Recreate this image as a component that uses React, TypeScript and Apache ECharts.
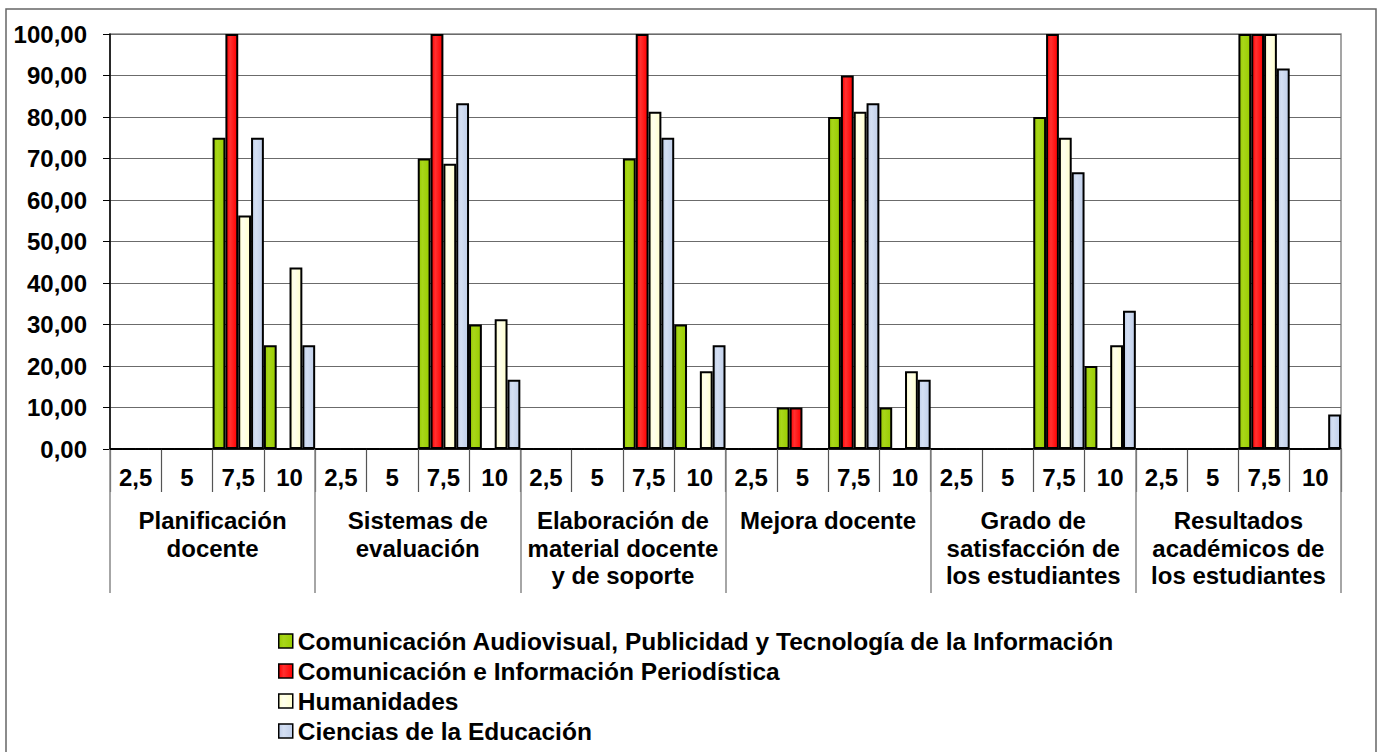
import React, { useEffect, useRef } from "react";
import * as echarts from "echarts";

const scoreTicks = ["2,5", "5", "7,5", "10"];
const groupNames = [
  "Planificación\ndocente",
  "Sistemas de\nevaluación",
  "Elaboración de\nmaterial docente\ny de soporte",
  "Mejora docente",
  "Grado de\nsatisfacción de\nlos estudiantes",
  "Resultados\nacadémicos de\nlos estudiantes",
];
const seriesNames = [
  "Comunicación Audiovisual, Publicidad y Tecnología de la Información",
  "Comunicación e Información Periodística",
  "Humanidades",
  "Ciencias de la Educación",
];
// values per category: 6 groups x [2,5 ; 5 ; 7,5 ; 10]
const audiovisual = [0, 0, 75, 25, 0, 0, 70, 30, 0, 0, 70, 30, 0, 10, 80, 10, 0, 0, 80, 20, 0, 0, 100, 0];
const periodistica = [0, 0, 100, 0, 0, 0, 100, 0, 0, 0, 100, 0, 0, 10, 90, 0, 0, 0, 100, 0, 0, 0, 100, 0];
const humanidades = [0, 0, 56.25, 43.75, 0, 0, 68.75, 31.25, 0, 0, 81.25, 18.75, 0, 0, 81.25, 18.75, 0, 0, 75, 25, 0, 0, 100, 0];
const educacion = [0, 0, 75, 25, 0, 0, 83.33, 16.67, 0, 0, 75, 25, 0, 0, 83.33, 16.67, 0, 0, 66.67, 33.33, 0, 0, 91.67, 8.33];
const seriesColors = ["#99CC00", "#FF0000", "#FFFFCC", "#C0CFEA"];
const yMin = 0;
const yMax = 100;
const yInterval = 10;

const FONT = "'Liberation Sans', Arial, sans-serif";
const FS = 24;

export default function App() {
  const ref = useRef<HTMLDivElement>(null);
  useEffect(() => {
    if (!ref.current) return;
    const chart = echarts.init(ref.current, null, { renderer: "svg" });
    const categories: string[] = [];
    groupNames.forEach(() => scoreTicks.forEach((t) => categories.push(t)));
    const allData = [audiovisual, periodistica, humanidades, educacion];
    const grad = (c: string, light: string) =>
      new echarts.graphic.LinearGradient(0, 0, 1, 0, [
        { offset: 0, color: c },
        { offset: 0.35, color: light },
        { offset: 1, color: c },
      ]);
    const lights = ["#A8D61A", "#FF3030", "#FFFFEE", "#D4DFF3"];
    chart.setOption({
      animation: false,
      backgroundColor: "#ffffff",
      textStyle: { fontFamily: FONT },
      graphic: [
        {
          type: "rect",
          shape: { x: 6, y: 9, width: 1370, height: 760 },
          style: { fill: "none", stroke: "#666", lineWidth: 1.5 },
          z: -1,
        },
      ],
      grid: {
        left: 110,
        right: 40,
        top: 34,
        bottom: 303,
        show: true,
        borderColor: "#888",
        borderWidth: 1.5,
        backgroundColor: "transparent",
      },
      legend: {
        orient: "vertical",
        left: 278,
        top: 628.5,
        padding: 0,
        itemGap: 5,
        itemWidth: 14,
        itemHeight: 14,
        icon: "rect",
        itemStyle: { borderColor: "#000", borderWidth: 1.5 },
        textStyle: {
          fontFamily: FONT,
          fontSize: 24.5,
          fontWeight: "bold",
          color: "#000",
          lineHeight: 24.5,
        },
        data: seriesNames,
      },
      xAxis: [
        {
          type: "category",
          data: categories,
          position: "bottom",
          axisLine: { show: true, lineStyle: { color: "#000", width: 1.5 } },
          axisTick: {
            show: true,
            interval: 0,
            length: 43,
            alignWithLabel: false,
            lineStyle: { color: "#555", width: 1.2 },
          },
          axisLabel: {
            interval: 0,
            margin: 16,
            fontFamily: FONT,
            fontSize: FS,
            fontWeight: "bold",
            color: "#000",
            lineHeight: FS,
          },
          splitLine: { show: false },
        },
        {
          type: "category",
          data: groupNames,
          position: "bottom",
          axisLine: { show: false },
          axisTick: {
            show: true,
            interval: 0,
            length: 144,
            alignWithLabel: false,
            lineStyle: { color: "#888", width: 1.5 },
          },
          axisLabel: {
            interval: 0,
            margin: 58,
            fontFamily: FONT,
            fontSize: FS,
            fontWeight: "bold",
            color: "#000",
            lineHeight: 27.5,
            align: "center",
          },
          splitLine: { show: false },
        },
      ],
      yAxis: {
        type: "value",
        min: yMin,
        max: yMax,
        interval: yInterval,
        axisLine: { show: true, lineStyle: { color: "#000", width: 1.5 } },
        axisTick: { show: true, length: 7, lineStyle: { color: "#000" } },
        axisLabel: {
          margin: 23,
          fontFamily: FONT,
          fontSize: FS,
          fontWeight: "bold",
          color: "#000",
          formatter: (v: number) => v.toFixed(2).replace(".", ","),
        },
        splitLine: { show: true, lineStyle: { color: "#6b6b6b", width: 1 } },
      },
      series: seriesNames.map((name, i) => ({
        name,
        type: "bar",
        xAxisIndex: 0,
        data: allData[i],
        barGap: "0%",
        barCategoryGap: "0%",
        itemStyle: {
          color: grad(seriesColors[i], lights[i]),
          borderColor: "#000",
          borderWidth: 2,
        },
      })),
    });
    return () => chart.dispose();
  }, []);
  return (
    <div
      ref={ref}
      style={{ position: "fixed", left: 0, top: 0, width: 1381, height: 752 }}
    />
  );
}
